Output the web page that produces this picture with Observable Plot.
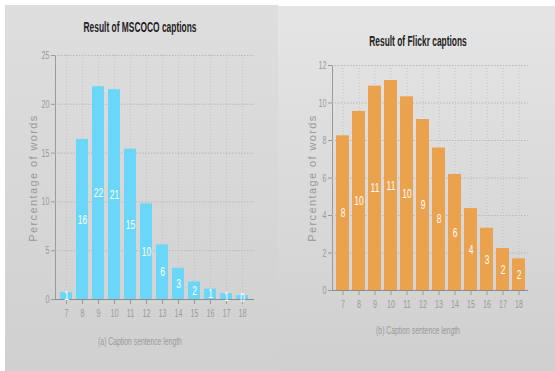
<!DOCTYPE html>
<html>
<head>
<meta charset="utf-8">
<script src="https://cdn.jsdelivr.net/npm/d3@7"></script>
<script src="https://cdn.jsdelivr.net/npm/@observablehq/plot@0.6"></script>
<style>
  html, body { margin: 0; padding: 0; background: #ffffff; }
  body { width: 555px; height: 371px; position: relative; overflow: hidden; }
  .panel { position: absolute; }
  .title, .xlabel, .ylabel { position: absolute; white-space: nowrap; }
  .title { font-family: "Liberation Sans", sans-serif; font-weight: bold; font-size: 14px; color: #222; transform: translate(-50%, -50%) scaleX(0.6); }
  .xlabel { font-family: "Liberation Sans", sans-serif; font-size: 11px; color: #999; transform: translate(-50%, -50%) scaleX(0.62); }
  .ylabel { font-family: "Liberation Sans", sans-serif; font-size: 11px; letter-spacing: 1.4px; color: #999; transform: translate(-50%, -50%) rotate(-90deg); }
  svg { position: absolute; }
</style>
</head>
<body>
<div id="left" class="panel" style="left:5px;top:5px;width:273px;height:366px;background:linear-gradient(#dedede,#d0d0d0);"></div>
<div id="right" class="panel" style="left:278px;top:6px;width:277px;height:365px;background:linear-gradient(#e5e5e5,#cfcfcf);"></div>
<div class="title" style="left:140px;top:27px;">Result of MSCOCO captions</div>
<div class="title" style="left:418px;top:41px;">Result of Flickr captions</div>
<div class="xlabel" style="left:140px;top:341px;">(a) Caption sentence length</div>
<div class="xlabel" style="left:418px;top:330px;">(b) Caption sentence length</div>
<div class="ylabel" style="left:33px;top:178px;">Percentage of words</div>
<div class="ylabel" style="left:312px;top:178px;">Percentage of words</div>
<script>
const lengths = [7, 8, 9, 10, 11, 12, 13, 14, 15, 16, 17, 18];
const mscoco = [0.7, 16.4, 21.8, 21.5, 15.4, 9.8, 5.6, 3.2, 1.8, 1.06, 0.6, 0.4];
const mscocoLabels = ["1", "16", "22", "21", "15", "10", "6", "3", "2", "1", "1", "0"];
const flickr = [8.25, 9.55, 10.9, 11.2, 10.33, 9.12, 7.6, 6.19, 4.37, 3.32, 2.24, 1.69];
const flickrLabels = ["8", "10", "11", "11", "10", "9", "8", "6", "4", "3", "2", "2"];
const mscocoTicks = [0, 5, 10, 15, 20, 25];
const flickrTicks = [0, 2, 4, 6, 8, 10, 12];

const font = '"Liberation Sans", sans-serif';

function condense(svg, k) {
  svg.querySelectorAll("text").forEach(t => {
    const x = t.getAttribute("x");
    if (x != null && x !== "") t.setAttribute("x", +x / k);
    const tr = t.getAttribute("transform") || "";
    t.setAttribute("transform", (tr + " scale(" + k + ",1)").trim());
  });
}

function panel(values, labels, ticks, color, opts) {
  const data = lengths.map((x, i) => ({x: String(x), v: values[i], label: labels[i]}));
  const svg = Plot.plot({
    width: opts.width,
    height: opts.height,
    marginLeft: opts.ml,
    marginRight: opts.mr,
    marginTop: opts.mt,
    marginBottom: opts.mb,
    style: {background: "transparent", fontFamily: font, fontSize: "11px", color: "#9a9a9a", overflow: "visible"},
    x: {type: "band", domain: lengths.map(String), paddingInner: opts.pi, paddingOuter: opts.po, label: null, tickSize: 5, tickPadding: 5},
    y: {domain: [ticks[0], ticks[ticks.length - 1]], ticks: ticks, tickSize: 4, tickPadding: 2, label: null, line: true},
    marks: [
      Plot.ruleY(ticks.slice(1), {stroke: "#b8b8b8", strokeDasharray: "1.5,1.5"}),
      Plot.ruleX(data, {x: "x", stroke: "#c2c2c2", strokeDasharray: "1,2"}),
      Plot.barY(data, {x: "x", y: "v", fill: color}),
      Plot.ruleY([0], {stroke: "#8c8c8c", strokeWidth: 1.2}),
      Plot.text(data, {x: "x", y: d => d.v / 2, text: "label", fill: "white", fontSize: 13, fontFamily: font})
    ]
  });
  condense(svg, 0.65);
  svg.querySelectorAll('[aria-label="y-axis line"], [aria-label="y-axis line"] *, .domain').forEach(el => {
    el.setAttribute("stroke", "#c0c0c0");
  });
  return svg;
}

const p1 = panel(mscoco, mscocoLabels, mscocoTicks, "#6ad7f9", {width: 268, height: 324, ml: 50, mr: 19, mt: 50, mb: 30, pi: 0.23, po: 0.1});
p1.style.left = "5px"; p1.style.top = "5px";
document.body.appendChild(p1);

const p2 = panel(flickr, flickrLabels, flickrTicks, "#eba24e", {width: 277, height: 314, ml: 54, mr: 27, mt: 59, mb: 30, pi: 0.21, po: 0.19});
p2.style.left = "278px"; p2.style.top = "6px";
document.body.appendChild(p2);
</script>
</body>
</html>
